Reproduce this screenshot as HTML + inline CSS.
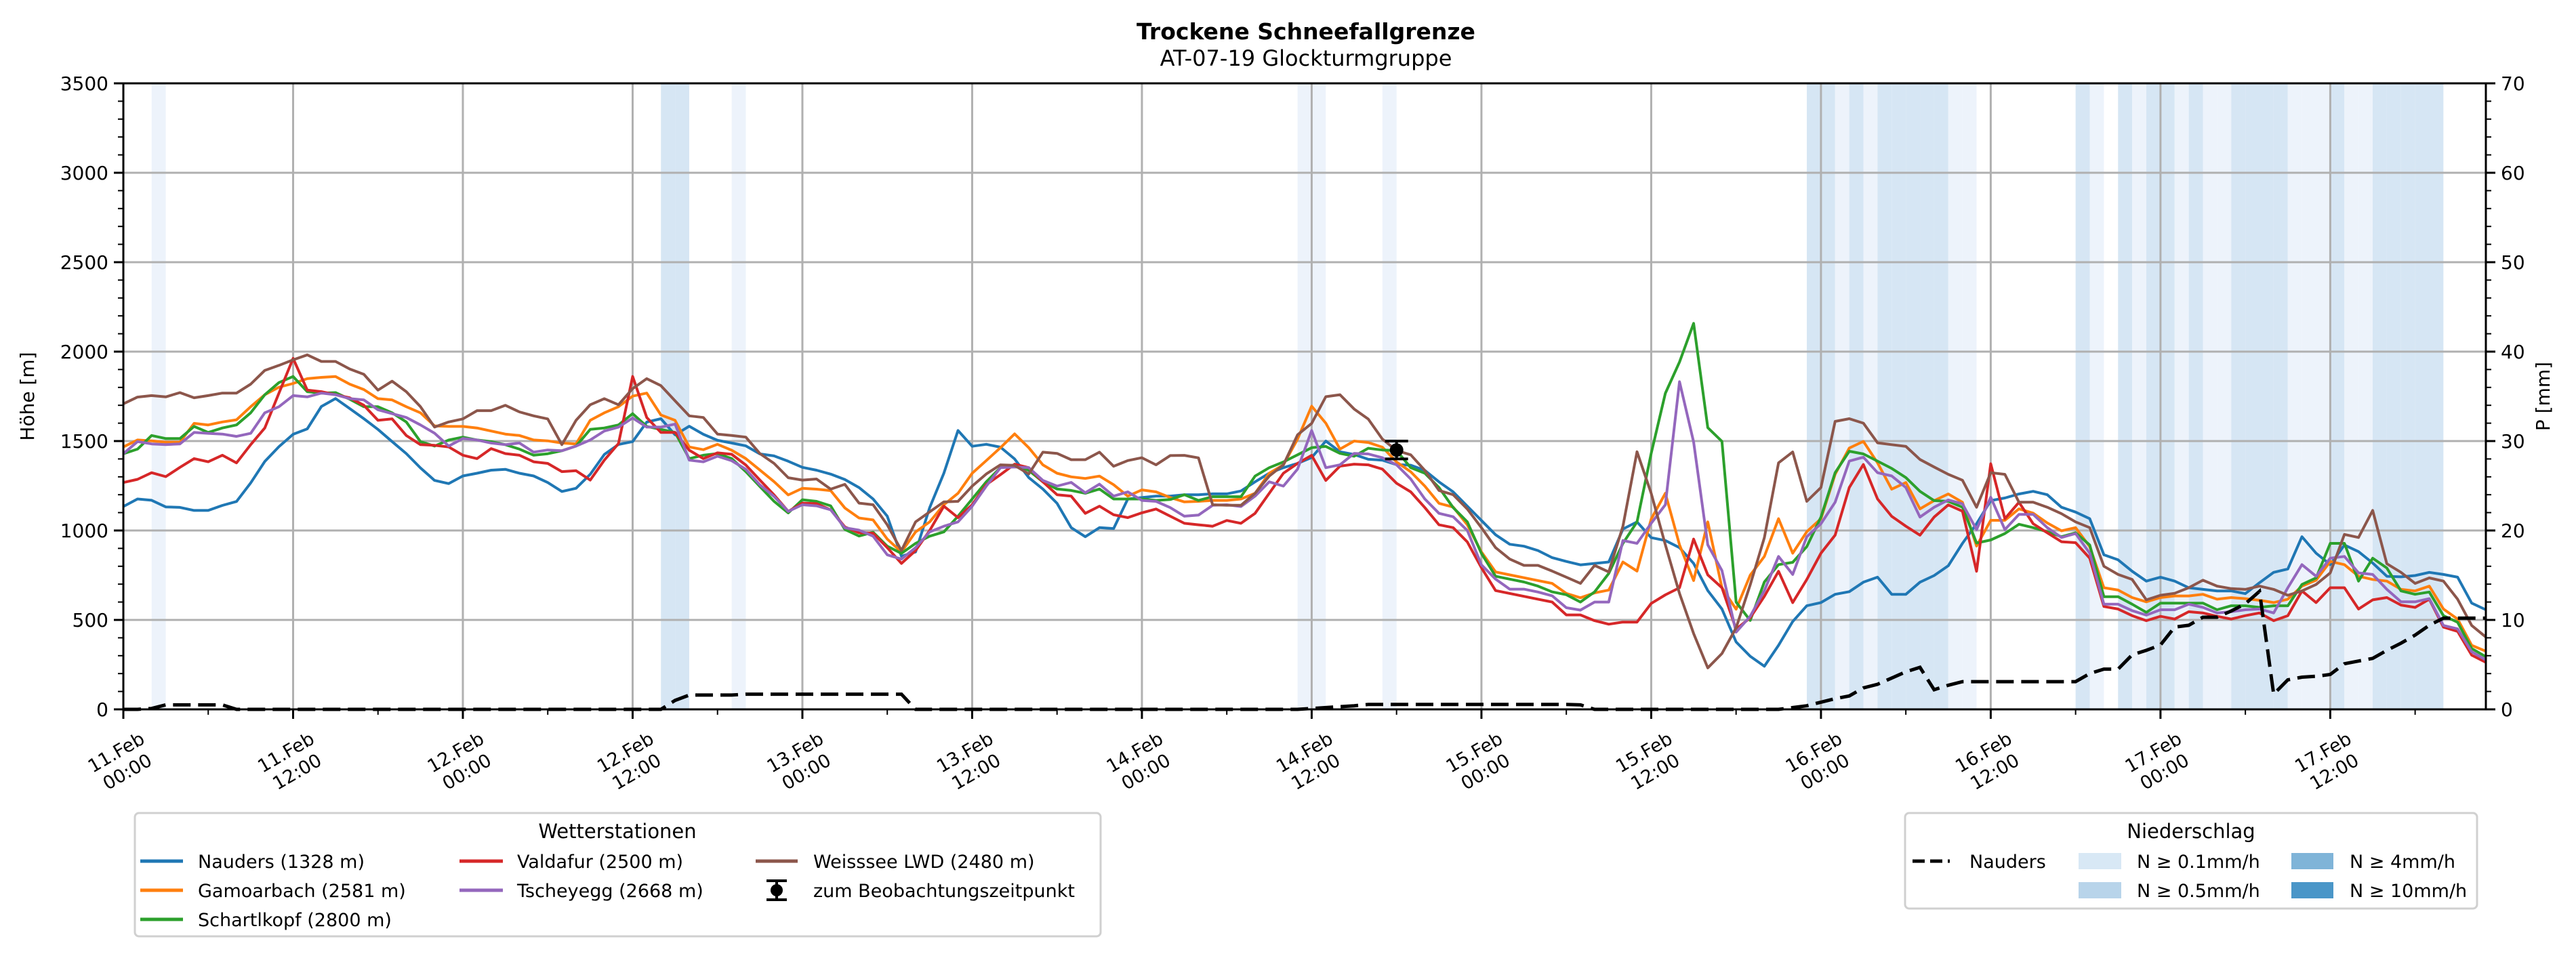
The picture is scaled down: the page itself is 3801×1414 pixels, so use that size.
<!DOCTYPE html>
<html><head><meta charset="utf-8"><title>Trockene Schneefallgrenze</title>
<style>
html,body{margin:0;padding:0;background:#fff;}
svg{display:block;font-family:"DejaVu Sans","Liberation Sans",sans-serif;}
</style></head>
<body>
<svg id="chart" width="3801" height="1414" viewBox="0 0 3801 1414" xmlns="http://www.w3.org/2000/svg">
<rect width="3801" height="1414" fill="#fff"/>
<text x="1927" y="58" text-anchor="middle" font-size="33" font-weight="bold">Trockene Schneefallgrenze</text>
<text x="1927" y="97" text-anchor="middle" font-size="32">AT-07-19 Glockturmgruppe</text>
<g id="bands"></g>
<g id="grid"></g>
<g id="series"></g>
<g id="axes"></g>
<text transform="translate(50,585) rotate(-90)" text-anchor="middle" font-size="28">Höhe [m]</text>
<text transform="translate(3762,585) rotate(-90)" text-anchor="middle" font-size="28">P [mm]</text>

<g>
<rect x="199" y="1200" width="1425" height="182" rx="6" fill="#fff" stroke="#d0d0d0" stroke-width="3"/>
<text x="911" y="1237" text-anchor="middle" font-size="29">Wetterstationen</text>
<g font-size="27">
<g><line x1="207" y1="1271" x2="270" y2="1271" stroke="#1f77b4" stroke-width="5"/><text x="292" y="1281">Nauders (1328 m)</text></g>
<g><line x1="207" y1="1314" x2="270" y2="1314" stroke="#ff7f0e" stroke-width="5"/><text x="292" y="1324">Gamoarbach (2581 m)</text></g>
<g><line x1="207" y1="1357" x2="270" y2="1357" stroke="#2ca02c" stroke-width="5"/><text x="292" y="1367">Schartlkopf (2800 m)</text></g>
<g><line x1="678" y1="1271" x2="742" y2="1271" stroke="#d62728" stroke-width="5"/><text x="763" y="1281">Valdafur (2500 m)</text></g>
<g><line x1="678" y1="1314" x2="742" y2="1314" stroke="#9467bd" stroke-width="5"/><text x="763" y="1324">Tscheyegg (2668 m)</text></g>
<g><line x1="1115" y1="1271" x2="1177" y2="1271" stroke="#8c564b" stroke-width="5"/><text x="1200" y="1281">Weisssee LWD (2480 m)</text></g>
<g><line x1="1146" y1="1300" x2="1146" y2="1328" stroke="#000" stroke-width="4"/><line x1="1131" y1="1300" x2="1161" y2="1300" stroke="#000" stroke-width="4"/><line x1="1131" y1="1328" x2="1161" y2="1328" stroke="#000" stroke-width="4"/><circle cx="1146" cy="1314" r="9"/><text x="1200" y="1324">zum Beobachtungszeitpunkt</text></g>
</g>
</g>

<g>
<rect x="2811" y="1200" width="844" height="141" rx="6" fill="#fff" stroke="#d0d0d0" stroke-width="3"/>
<text x="3233" y="1237" text-anchor="middle" font-size="29">Niederschlag</text>
<g font-size="27">
<g><line x1="2822" y1="1271" x2="2877" y2="1271" stroke="#000" stroke-width="5" stroke-dasharray="18,8"/><text x="2906" y="1281">Nauders</text></g>
<g><rect x="3067" y="1259" width="63" height="24" fill="#d8e8f5"/><text x="3153" y="1281">N ≥ 0.1mm/h</text></g>
<g><rect x="3067" y="1302" width="63" height="24" fill="#b8d4ea"/><text x="3153" y="1324">N ≥ 0.5mm/h</text></g>
<g><rect x="3381" y="1259" width="62" height="24" fill="#7fb4d8"/><text x="3467" y="1281">N ≥ 4mm/h</text></g>
<g><rect x="3381" y="1302" width="62" height="24" fill="#4a96c8"/><text x="3467" y="1324">N ≥ 10mm/h</text></g>
</g>
</g>
</svg>
<script>
const nauders=[1134,1176,1169,1132,1129,1112,1112,1140,1162,1266,1386,1469,1538,1568,1693,1738,1682,1625,1565,1497,1430,1350,1280,1262,1305,1320,1337,1342,1320,1305,1268,1218,1236,1314,1425,1481,1497,1606,1625,1535,1583,1538,1504,1489,1473,1428,1417,1387,1353,1337,1315,1285,1240,1176,1080,856,880,1128,1320,1559,1471,1482,1466,1400,1296,1232,1152,1016,965,1016,1011,1176,1184,1192,1192,1200,1200,1205,1205,1221,1272,1320,1351,1375,1408,1500,1440,1425,1398,1393,1368,1365,1336,1272,1216,1136,1056,976,923,912,888,848,827,808,816,824,1008,1048,960,944,904,816,664,561,377,297,241,358,491,579,597,643,658,711,739,643,643,711,748,803,928,1038,1167,1182,1204,1219,1200,1130,1103,1066,864,836,772,717,739,717,680,671,662,662,647,708,766,785,965,873,809,919,882,818,744,741,748,766,754,739,594,557];
const gamoarbach=[1467,1506,1501,1494,1494,1599,1590,1607,1619,1692,1759,1801,1822,1849,1856,1861,1818,1788,1737,1730,1692,1658,1585,1582,1582,1573,1556,1539,1531,1506,1501,1489,1484,1616,1658,1692,1751,1768,1646,1616,1467,1452,1482,1449,1402,1338,1273,1199,1236,1231,1223,1126,1070,1059,952,880,992,1048,1144,1208,1320,1391,1463,1540,1463,1367,1320,1300,1291,1304,1256,1192,1227,1216,1184,1160,1163,1168,1168,1176,1208,1320,1367,1511,1695,1600,1455,1500,1492,1466,1383,1328,1248,1152,1131,1032,880,768,752,736,720,704,648,624,651,667,824,773,1064,1208,920,720,1048,680,560,750,855,1066,873,993,1066,1314,1461,1498,1378,1231,1268,1121,1167,1204,1158,913,1057,1057,1121,1097,1042,998,1016,910,680,667,625,601,625,634,634,643,616,625,619,610,597,616,689,722,827,809,744,726,717,671,662,689,561,505,358,325];
const schartlkopf=[1429,1455,1531,1514,1514,1582,1548,1573,1590,1658,1759,1827,1861,1776,1768,1771,1734,1692,1692,1658,1607,1497,1472,1506,1522,1506,1497,1480,1455,1421,1429,1446,1472,1565,1573,1590,1653,1582,1565,1548,1402,1421,1430,1402,1329,1246,1163,1098,1172,1163,1138,1006,969,990,912,872,928,968,992,1080,1176,1272,1351,1367,1336,1272,1232,1224,1208,1232,1176,1176,1176,1168,1173,1200,1168,1189,1189,1189,1304,1351,1383,1423,1463,1470,1431,1415,1460,1450,1447,1351,1320,1240,1128,1048,872,744,728,712,689,657,641,600,657,760,928,1048,1431,1767,1942,2158,1575,1498,600,497,712,809,822,910,1075,1323,1443,1428,1388,1347,1296,1219,1167,1163,1130,930,947,983,1035,1016,993,965,987,919,630,630,588,542,594,594,594,594,557,579,579,570,579,579,698,735,928,928,717,845,790,662,643,656,524,487,340,294];
const valdafur=[1268,1286,1323,1301,1353,1402,1384,1421,1378,1480,1573,1768,1962,1785,1776,1759,1742,1700,1616,1624,1531,1480,1476,1467,1421,1402,1458,1430,1421,1384,1375,1329,1334,1282,1393,1486,1861,1632,1548,1548,1449,1402,1434,1426,1366,1282,1199,1107,1153,1150,1116,1020,987,985,904,816,888,1000,1136,1072,1144,1256,1312,1371,1351,1272,1200,1192,1096,1136,1088,1072,1099,1120,1080,1040,1032,1024,1056,1040,1096,1208,1320,1375,1420,1280,1360,1371,1367,1343,1264,1216,1128,1032,1016,936,792,664,648,632,616,600,528,528,496,476,488,488,592,640,680,952,752,680,448,512,632,772,597,726,873,974,1240,1369,1176,1079,1024,974,1075,1143,1108,772,1373,1066,1158,1038,987,937,932,845,575,561,524,496,520,505,546,539,520,505,524,539,496,524,662,597,680,680,561,612,625,583,570,616,460,436,303,263];
const tscheyegg=[1429,1497,1484,1480,1484,1548,1543,1539,1526,1543,1658,1692,1754,1747,1768,1759,1737,1730,1675,1653,1632,1590,1544,1472,1514,1506,1489,1480,1489,1438,1450,1446,1472,1506,1556,1578,1629,1578,1578,1595,1393,1384,1415,1390,1342,1255,1190,1107,1144,1138,1116,1015,1002,968,864,840,904,992,1024,1048,1136,1248,1351,1355,1351,1280,1248,1269,1211,1259,1192,1216,1168,1163,1128,1080,1086,1141,1144,1134,1192,1272,1248,1343,1559,1351,1367,1431,1428,1407,1367,1288,1176,1096,1077,1000,808,728,672,672,656,635,568,555,600,600,944,928,1040,1144,1832,1495,920,776,432,520,664,855,754,965,1038,1158,1388,1410,1323,1305,1240,1075,1130,1171,1149,1005,1186,1005,1090,1090,1016,961,983,873,588,588,552,527,557,557,588,570,539,546,557,561,539,680,809,744,845,855,763,754,671,601,601,619,469,450,322,276];
const weisssee=[1708,1746,1754,1747,1771,1742,1754,1768,1768,1818,1895,1923,1954,1982,1945,1945,1903,1873,1785,1835,1776,1692,1578,1607,1624,1670,1670,1700,1663,1641,1624,1480,1616,1703,1737,1703,1793,1849,1810,1725,1641,1632,1539,1531,1522,1430,1375,1295,1282,1288,1231,1258,1153,1144,1032,888,1048,1104,1160,1163,1248,1316,1367,1364,1316,1438,1431,1396,1396,1438,1359,1391,1407,1367,1419,1420,1406,1144,1141,1141,1208,1304,1367,1535,1599,1748,1759,1679,1623,1511,1447,1423,1336,1224,1200,1120,1016,904,840,805,805,773,739,704,805,768,1024,1440,1208,920,648,424,232,312,456,696,960,1378,1439,1163,1240,1610,1625,1600,1490,1480,1470,1397,1355,1314,1281,1130,1323,1314,1158,1158,1130,1094,1048,1016,800,754,726,612,638,649,680,722,689,675,671,689,671,638,662,698,763,978,961,1112,814,766,704,735,717,616,469,404];
const precipNauders=[0,0,0.1,0.5,0.5,0.5,0.5,0.5,0,0,0,0,0,0,0,0,0,0,0,0,0,0,0,0,0,0,0,0,0,0,0,0,0,0,0,0,0,0,0,1.0,1.6,1.6,1.6,1.6,1.7,1.7,1.7,1.7,1.7,1.7,1.7,1.7,1.7,1.7,1.7,1.7,0,0,0,0,0,0,0,0,0,0,0,0,0,0,0,0,0,0,0,0,0,0,0,0,0,0,0,0,0.1,0.2,0.3,0.4,0.55,0.55,0.55,0.55,0.55,0.55,0.55,0.55,0.55,0.55,0.55,0.55,0.55,0.55,0.55,0.5,0,0,0,0,0,0,0,0,0,0,0,0,0,0,0.2,0.4,0.8,1.2,1.5,2.4,2.8,3.5,4.2,4.7,2.2,2.7,3.1,3.1,3.1,3.1,3.1,3.1,3.1,3.1,3.1,4.0,4.5,4.5,6.1,6.6,7.2,9.2,9.4,10.3,10.3,11.0,11.8,13.2,1.7,3.3,3.6,3.7,3.9,5.1,5.4,5.7,6.6,7.4,8.3,9.4,10.2,10.2,10.2,10.2];
const bandHours=[2,38,39,43,83,84,89,119,120,121,122,123,124,125,126,127,128,129,130,138,139,141,142,143,144,145,146,147,148,149,150,151,152,153,154,155,156,157,158,159,160,161,162,163];
const bandLevels=[1,2,2,1,1,1,1,2,2,1,2,1,2,2,2,2,2,1,1,2,1,2,1,2,2,1,2,1,1,2,2,2,2,1,1,1,2,1,1,2,2,2,2,2];
const obsHour=[90];
const obsValue=[1450];
const obsError=[50];
const yTicks=[0,500,1000,1500,2000,2500,3000,3500];
const y2Ticks=[0,10,20,30,40,50,60,70];
const xTickDays=["11.Feb","11.Feb","12.Feb","12.Feb","13.Feb","13.Feb","14.Feb","14.Feb","15.Feb","15.Feb","16.Feb","16.Feb","17.Feb","17.Feb"];
const xTickTimes=["00:00","12:00","00:00","12:00","00:00","12:00","00:00","12:00","00:00","12:00","00:00","12:00","00:00","12:00"];

const NS="http://www.w3.org/2000/svg";
const L=182,R=3668,T=123,B=1047,HMAX=167,YMAX=3500,PMAX=70;
function xs(h){return L+(R-L)*h/HMAX;}
function ys(v){return B-(B-T)*v/YMAX;}
function ps(p){return B-(B-T)*p/PMAX;}
function mk(tag,attrs,parent){const e=document.createElementNS(NS,tag);for(const k in attrs)e.setAttribute(k,attrs[k]);parent.appendChild(e);return e;}

const gB=document.getElementById('bands');
bandHours.forEach((h,i)=>{
  const r=mk('rect',{x:xs(h),y:T,width:xs(h+1)-xs(h),height:B-T,fill:bandLevels[i]===2?'#d6e6f4':'#edf3fb'},gB);
  
  
});
const gG=document.getElementById('grid');
yTicks.forEach(v=>{const l=mk('line',{x1:L,x2:R,y1:ys(v),y2:ys(v),stroke:'#b0b0b0','stroke-width':3},gG);
  
  });
xTickDays.forEach((d,i)=>{const x=xs(i*12);const l=mk('line',{x1:x,x2:x,y1:T,y2:B,stroke:'#b0b0b0','stroke-width':3},gG);
  
  });

const gS=document.getElementById('series');
const series=[[nauders,'#1f77b4','nauders'],[gamoarbach,'#ff7f0e','gamoarbach'],[schartlkopf,'#2ca02c','schartlkopf'],[valdafur,'#d62728','valdafur'],[tscheyegg,'#9467bd','tscheyegg'],[weisssee,'#8c564b','weisssee']];
series.forEach(s=>{
  const d=s[0].map((v,h)=>(h?'L':'M')+xs(h).toFixed(1)+','+ys(v).toFixed(1)).join('');
  const p=mk('path',{d:d,fill:'none',stroke:s[1],'stroke-width':4,'stroke-linejoin':'round'},gS);
  
  
});
const pd=precipNauders.map((v,h)=>(h?'L':'M')+xs(h).toFixed(1)+','+ps(v).toFixed(1)).join('');
const pp=mk('path',{d:pd,fill:'none',stroke:'#000','stroke-width':5,'stroke-dasharray':'26,11'},gS);


obsHour.forEach((h,i)=>{
  const g=mk('g',{},gS);
  
  
  const x=xs(h),y1=ys(obsValue[i]+obsError[i]),y2=ys(obsValue[i]-obsError[i]);
  mk('line',{x1:x,x2:x,y1:y1,y2:y2,stroke:'#000','stroke-width':4},g);
  mk('line',{x1:x-17,x2:x+17,y1:y1,y2:y1,stroke:'#000','stroke-width':4},g);
  mk('line',{x1:x-17,x2:x+17,y1:y2,y2:y2,stroke:'#000','stroke-width':4},g);
  mk('circle',{cx:x,cy:ys(obsValue[i]),r:10,fill:'#000'},g);
});

const gA=document.getElementById('axes');
mk('rect',{x:L,y:T,width:R-L,height:B-T,fill:'none',stroke:'#000','stroke-width':3},gA);
for(let v=0;v<=YMAX;v+=100){const y=ys(v);const major=v%500===0;
  mk('line',{x1:L,x2:L-(major?14:8),y1:y,y2:y,stroke:'#000','stroke-width':major?3:2},gA);}
for(let p=0;p<=PMAX;p+=2){const y=ps(p);const major=p%10===0;
  mk('line',{x1:R,x2:R+(major?14:8),y1:y,y2:y,stroke:'#000','stroke-width':major?3:2},gA);}
for(let h=0;h<=HMAX;h+=6){const x=xs(h);const major=h%12===0;
  mk('line',{x1:x,x2:x,y1:B,y2:B+(major?14:8),stroke:'#000','stroke-width':major?3:2},gA);}
yTicks.forEach(v=>{const t=mk('text',{x:L-22,y:ys(v)+10,'text-anchor':'end','font-size':28},gA);t.textContent=v;
  
  });
y2Ticks.forEach(v=>{const t=mk('text',{x:R+22,y:ps(v)+10,'font-size':28},gA);t.textContent=v;
  
  });
xTickDays.forEach((d,i)=>{const x=xs(i*12);
  const t=mk('text',{transform:'translate('+(x-4)+',1122) rotate(-30)','text-anchor':'middle','font-size':27},gA);
  
  
  const a=mk('tspan',{x:0,dy:-4},t);a.textContent=d;
  const b=mk('tspan',{x:0,dy:33},t);b.textContent=xTickTimes[i];
});
</script>
</body></html>
